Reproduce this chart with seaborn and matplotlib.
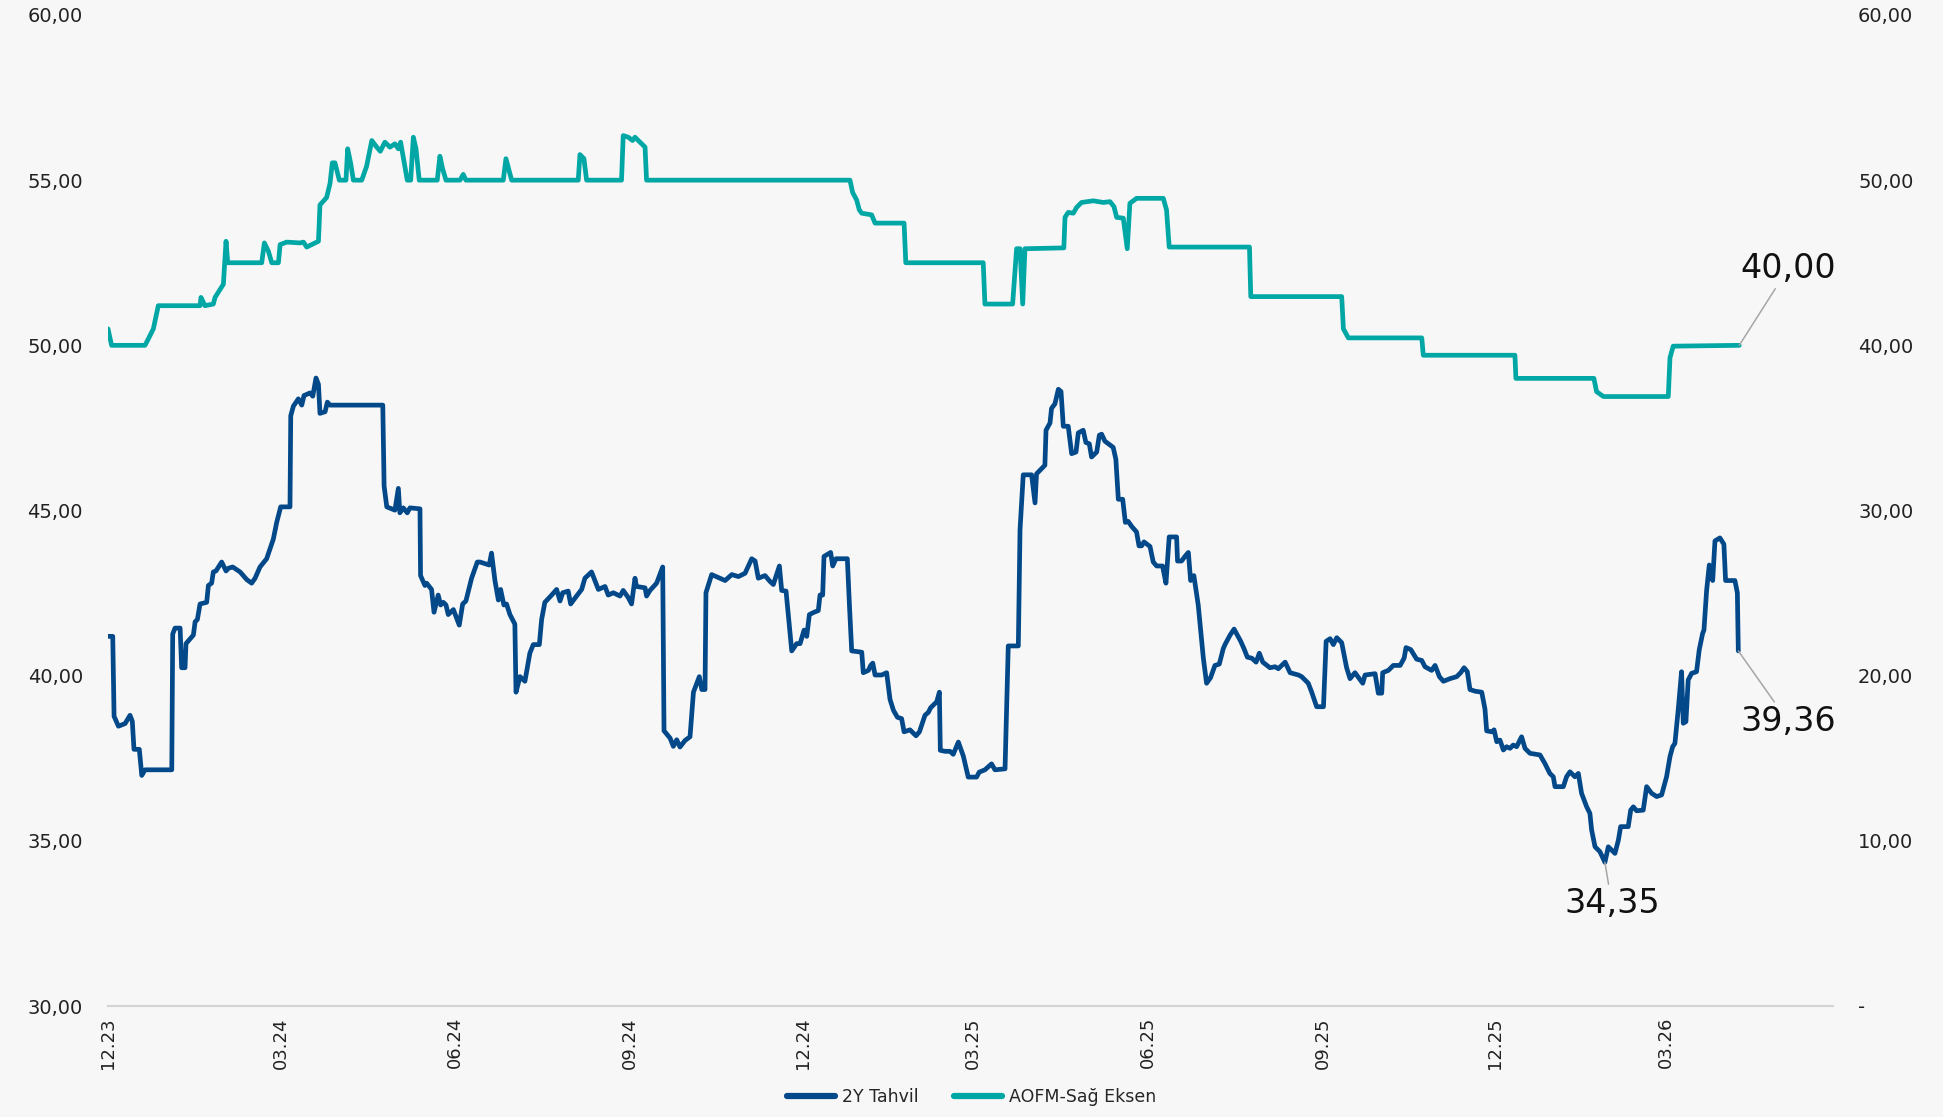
import numpy as np
import pandas as pd
import matplotlib
matplotlib.use("Agg")
import matplotlib.pyplot as plt
from matplotlib.lines import Line2D
import seaborn as sns

# ---------------- data ----------------
start_date = "2023-12-01"

# 2Y Tahvil (left axis): days since start_date and values
bond_days = [0, 2.5, 3.2, 5.5, 9.0, 11.6, 12.8, 13.7, 16.5, 17.8, 19.5, 33.6, 34.1, 35.3, 38.0, 38.8,
             40.6, 41.1, 45.0, 45.9, 47.1, 48.5, 52.0, 52.9, 54.6, 55.5, 56.9, 59.9, 62.2, 63.4, 65.7,
             69.6, 73.1, 75.7, 77.5, 80.1, 83.6, 87.1, 88.9, 91.0, 95.9, 96.3, 97.7, 100.3, 102.1,
             103.3, 106.5, 107.9, 109.6, 110.9, 111.7, 114.4, 115.6, 117.0, 144.8, 145.5, 146.9,
             151.2, 153.0, 153.8, 155.6, 157.7, 159.1, 164.4, 164.7, 167.0, 167.9, 170.5, 171.8,
             174.0, 175.3, 176.7, 178.1, 179.3, 182.0, 185.1, 186.9, 188.6, 191.6, 194.6, 196.0,
             200.9, 202.1, 203.9, 205.7, 206.9, 208.6, 210.0, 211.8, 214.4, 215.0, 217.1, 219.7,
             222.3, 224.1, 227.3, 228.5, 230.2, 233.8, 236.4, 238.2, 239.6, 242.5, 243.8, 246.9,
             249.6, 251.3, 254.8, 258.4, 261.9, 263.6, 266.3, 269.8, 271.5, 274.2, 275.9, 277.7,
             278.5, 283.0, 283.8, 285.6, 289.1, 292.3, 293.0, 296.2, 297.9, 299.7, 301.4, 304.1,
             306.7, 308.5, 311.6, 312.9, 314.6, 315.1, 318.1, 325.2, 328.7, 332.2, 335.7, 339.2,
             341.0, 342.7, 346.2, 348.9, 350.6, 353.8, 355.0, 357.3, 360.3, 362.9, 364.7, 366.8,
             368.2, 369.6, 372.1, 374.3, 375.2, 376.6, 377.3, 380.8, 381.9, 383.6, 389.6, 390.7,
             391.9, 397.2, 398.0, 400.7, 401.9, 403.0, 404.2, 407.7, 410.3, 412.1, 413.9, 416.0,
             418.2, 419.5, 422.6, 425.8, 427.6, 430.5, 432.3, 433.5, 436.7, 438.1, 438.6, 441.1,
             443.7, 445.4, 448.1, 450.7, 453.3, 457.7, 459.1, 462.1, 465.6, 467.4, 472.7, 474.4,
             479.7, 480.6, 482.3, 486.7, 488.5, 489.3, 493.7, 494.3, 496.4, 497.2, 499.0, 500.8,
             502.2, 503.4, 506.0, 507.8, 510.1, 511.3, 513.9, 515.3, 517.1, 518.3, 521.0, 522.4,
             523.6, 525.3, 529.7, 531.1, 532.4, 534.7, 536.1, 537.6, 539.4, 542.0, 543.3, 544.7,
             545.9, 549.1, 550.8, 552.6, 555.7, 557.5, 559.2, 563.1, 563.6, 565.7, 567.5, 569.3,
             570.5, 572.2, 574.5, 577.2, 578.9, 581.0, 583.3, 585.6, 587.7, 588.6, 591.3, 593.4,
             594.8, 596.9, 598.6, 600.4, 602.7, 605.0, 606.7, 608.5, 612.3, 615.0, 616.7, 620.3,
             622.9, 627.3, 629.0, 632.5, 634.3, 636.9, 640.5, 641.9, 644.0, 645.7, 647.5, 650.1,
             652.7, 654.5, 657.1, 659.4, 661.2, 662.4, 667.7, 669.4, 671.2, 671.7, 674.7, 677.3,
             680.9, 683.0, 684.0, 686.5, 689.6, 692.3, 694.0, 697.5, 699.3, 701.6, 703.7, 707.2,
             710.7, 712.8, 714.6, 716.3, 717.7, 720.4, 723.9, 725.6, 726.5, 729.2, 730.4, 731.8,
             733.5, 735.3, 737.0, 738.8, 740.5, 742.3, 744.9, 746.7, 749.3, 754.6, 757.2, 759.8,
             761.6, 762.5, 766.9, 768.6, 770.4, 773.0, 774.8, 776.5, 779.2, 780.9, 781.8, 783.6,
             786.2, 788.8, 790.6, 794.1, 795.9, 797.1, 801.1, 802.4, 803.8, 805.5, 809.0, 810.8,
             813.4, 816.1, 818.7, 821.3, 823.1, 824.5, 825.7, 827.5, 829.2, 830.1, 831.5, 832.7,
             834.5, 837.1, 838.5, 840.3, 841.0, 842.4, 843.8, 845.6, 846.8, 849.4, 851.5, 852.4,
             857.3, 858.6, 859.1]
bond_vals = [41.19, 41.19, 38.77, 38.47, 38.55, 38.80, 38.62, 37.77, 37.77, 36.98, 37.15, 37.15, 41.26,
             41.44, 41.44, 40.24, 40.24, 40.97, 41.23, 41.63, 41.70, 42.17, 42.22, 42.73, 42.80, 43.14,
             43.17, 43.44, 43.17, 43.25, 43.29, 43.14, 42.91, 42.80, 42.95, 43.29, 43.54, 44.13, 44.64,
             45.11, 45.11, 47.87, 48.16, 48.38, 48.19, 48.48, 48.56, 48.46, 49.01, 48.82, 47.94, 47.99,
             48.28, 48.19, 48.19, 45.74, 45.11, 45.01, 45.67, 44.93, 45.08, 44.93, 45.08, 45.05, 43.03,
             42.73, 42.80, 42.61, 41.92, 42.44, 42.14, 42.22, 42.14, 41.85, 42.00, 41.53, 42.17, 42.26,
             42.95, 43.44, 43.44, 43.35, 43.71, 42.88, 42.29, 42.61, 42.14, 42.17, 41.85, 41.56, 39.50,
             39.97, 39.83, 40.68, 40.94, 40.94, 41.70, 42.22, 42.44, 42.61, 42.26, 42.51, 42.56, 42.17,
             42.41, 42.61, 42.95, 43.14, 42.61, 42.70, 42.44, 42.51, 42.41, 42.58, 42.36, 42.17, 42.95,
             42.70, 42.66, 42.41, 42.58, 42.80, 43.29, 38.33, 38.11, 37.86, 38.06, 37.84, 38.04, 38.15,
             39.50, 39.97, 39.58, 39.58, 42.51, 43.06, 42.88, 43.06, 43.00, 43.10, 43.54, 43.47, 42.95,
             43.03, 42.85, 42.76, 43.32, 42.58, 42.56, 40.75, 40.97, 40.97, 41.38, 41.19, 41.85, 41.92,
             41.97, 42.44, 42.44, 43.61, 43.73, 43.32, 43.54, 43.54, 42.14, 40.75, 40.71, 40.09, 40.16,
             40.31, 40.38, 40.02, 40.02, 40.09, 39.28, 38.95, 38.74, 38.70, 38.30, 38.36, 38.18, 38.30,
             38.80, 38.89, 39.03, 39.21, 39.50, 37.74, 37.71, 37.71, 37.62, 37.99, 37.57, 36.93, 36.93,
             37.08, 37.15, 37.33, 37.15, 37.18, 40.90, 40.90, 44.42, 46.08, 46.08, 45.23, 46.11, 46.37,
             47.43, 47.65, 48.09, 48.23, 48.67, 48.60, 47.55, 47.55, 46.72, 46.77, 47.35, 47.43, 47.06,
             47.02, 46.62, 46.77, 47.28, 47.31, 47.10, 46.91, 46.55, 45.34, 45.34, 44.64, 44.67, 44.52,
             44.35, 43.93, 43.93, 44.05, 43.91, 43.44, 43.32, 43.32, 42.80, 44.20, 44.20, 43.47, 43.47,
             43.61, 43.73, 42.88, 43.03, 42.14, 40.53, 39.77, 39.94, 40.31, 40.35, 40.82, 40.94, 41.23,
             41.41, 41.26, 41.04, 40.82, 40.56, 40.53, 40.41, 40.68, 40.41, 40.24, 40.27, 40.21, 40.41,
             40.09, 40.02, 39.97, 39.77, 39.50, 39.06, 39.06, 41.04, 41.12, 40.94, 41.15, 41.00, 40.24,
             39.91, 40.09, 39.91, 39.77, 40.02, 40.06, 39.47, 39.47, 40.09, 40.16, 40.31, 40.31, 40.53,
             40.85, 40.79, 40.50, 40.46, 40.27, 40.16, 40.31, 39.97, 39.83, 39.91, 39.97, 40.09, 40.24,
             40.12, 39.58, 39.53, 39.50, 38.99, 38.33, 38.30, 38.36, 38.00, 38.05, 37.75, 37.85, 37.80,
             37.90, 37.85, 38.15, 37.80, 37.65, 37.60, 37.34, 37.04, 36.94, 36.64, 36.64, 36.94, 37.09,
             36.94, 37.04, 36.44, 36.03, 35.83, 35.33, 34.82, 34.67, 34.35, 34.82, 34.62, 35.02, 35.43,
             35.43, 35.93, 36.03, 35.91, 35.93, 36.64, 36.44, 36.34, 36.39, 36.94, 37.55, 37.85, 37.95,
             39.01, 40.12, 38.56, 38.61, 39.87, 40.07, 40.12, 40.78, 41.28, 41.38, 42.58, 43.35, 42.88,
             44.08, 44.17, 43.98, 42.88, 42.88, 42.51, 40.75]

# AOFM (right axis): days since start_date and values
aofm_days = [0, 1.9, 19.5, 21.3, 23.9, 26.5, 48.5, 49.0, 51.1, 55.5, 56.4, 60.8, 62.2, 63.1, 81.0,
             82.4, 84.5, 86.3, 89.8, 90.7, 94.2, 101.2, 103.0, 104.7, 110.9, 111.7, 115.2, 117.0,
             118.2, 119.6, 121.9, 125.4, 126.3, 127.9, 129.3, 133.7, 136.3, 139.0, 141.6, 143.5,
             145.9, 148.6, 151.2, 153.0, 154.2, 157.7, 159.5, 160.9, 162.3, 164.0, 173.5, 174.9,
             176.3, 178.1, 185.5, 187.2, 188.6, 208.3, 209.7, 212.7, 247.8, 248.7, 250.8, 252.2,
             270.6, 271.5, 274.2, 276.4, 277.7, 283.0, 283.8, 391.0, 392.4, 394.5, 395.9, 397.2,
             402.4, 404.2, 419.5, 420.4, 461.2, 462.1, 476.7, 478.8, 480.6, 482.0, 483.2, 503.7,
             504.3, 506.0, 508.7, 510.4, 513.0, 519.2, 524.5, 528.0, 530.1, 531.5, 535.0, 537.1,
             538.5, 542.0, 556.1, 557.8, 559.2, 601.5, 602.2, 650.1, 651.0, 653.6, 692.3, 693.1,
             741.4, 741.9, 783.0, 784.4, 788.0, 822.2, 823.1, 824.8, 859.6]
aofm_vals = [41.0, 40.0, 40.0, 40.4, 41.0, 42.4, 42.4, 42.9, 42.4, 42.5, 42.9, 43.7, 46.3, 45.0, 45.0,
             46.2, 45.7, 45.0, 45.0, 46.1, 46.25, 46.2, 46.25, 45.95, 46.3, 48.5, 48.95, 49.8, 51.05,
             51.05, 50.0, 50.0, 51.9, 51.0, 50.0, 50.0, 50.85, 52.4, 52.0, 51.75, 52.3, 52.0, 52.2,
             51.9, 52.3, 50.0, 50.0, 52.6, 51.9, 50.0, 50.0, 51.45, 50.7, 50.0, 50.0, 50.35, 50.0,
             50.0, 51.3, 50.0, 50.0, 51.55, 51.3, 50.0, 50.0, 52.7, 52.6, 52.4, 52.6, 52.0, 50.0,
             50.0, 49.25, 48.8, 48.2, 48.0, 47.9, 47.4, 47.4, 45.0, 45.0, 42.5, 42.5, 45.85, 45.85,
             42.5, 45.85, 45.9, 47.75, 48.05, 48.0, 48.35, 48.65, 48.75, 48.65, 48.7, 48.4, 47.75,
             47.7, 45.85, 48.6, 48.9, 48.9, 48.2, 45.95, 45.95, 42.95, 42.95, 41.0, 40.45, 40.45,
             39.4, 39.4, 38.0, 38.0, 37.2, 36.9, 36.9, 39.25, 39.95, 40.0]

series_names = ["2Y Tahvil", "AOFM-Sağ Eksen"]

x_tick_dates = ["2023-12-01", "2024-03-01", "2024-06-01", "2024-09-01", "2024-12-01",
                "2025-03-01", "2025-06-01", "2025-09-01", "2025-12-01", "2026-03-01"]
x_tick_labels = ["12.23", "03.24", "06.24", "09.24", "12.24", "03.25", "06.25", "09.25", "12.25", "03.26"]
x_end_date = "2026-05-28"

left_ticks = [30, 35, 40, 45, 50, 55, 60]
left_tick_labels = ["30,00", "35,00", "40,00", "45,00", "50,00", "55,00", "60,00"]
right_ticks = [0, 10, 20, 30, 40, 50, 60]
right_tick_labels = ["-", "10,00", "20,00", "30,00", "40,00", "50,00", "60,00"]

label_aofm_last = "40,00"
label_bond_last = "39,36"
label_bond_min = "34,35"

# ---------------- styling ----------------
BG = "#f7f7f7"
BLUE = "#03498a"
TEAL = "#00a7a5"
GREY_TXT = "#222222"

sns.set_theme(style="white")
plt.rcParams["font.family"] = ["DejaVu Sans"]

base = pd.Timestamp(start_date)
bond_df = pd.DataFrame({"date": base + pd.to_timedelta(bond_days, unit="D"),
                        "value": bond_vals, "series": series_names[0]})
aofm_df = pd.DataFrame({"date": base + pd.to_timedelta(aofm_days, unit="D"),
                        "value": aofm_vals, "series": series_names[1]})

W, H = 1943, 1117
fig = plt.figure(figsize=(W / 100, H / 100), dpi=100, facecolor=BG)
ax = fig.add_axes([108 / W, 1 - 1006 / H, (1833 - 108) / W, (1006 - 15) / H])
ax.set_facecolor(BG)
ax2 = ax.twinx()
ax2.patch.set_visible(False)

sns.lineplot(data=bond_df, x="date", y="value", ax=ax, color=BLUE, lw=3.4,
             estimator=None, sort=False, legend=False)
sns.lineplot(data=aofm_df, x="date", y="value", ax=ax2, color=TEAL, lw=3.4,
             estimator=None, sort=False, legend=False)

ax.set_xlim(base, pd.Timestamp(x_end_date))
ax.set_ylim(left_ticks[0], left_ticks[-1])
ax2.set_ylim(right_ticks[0], right_ticks[-1])

ax.set_xticks(pd.to_datetime(x_tick_dates))
ax.set_xticklabels(x_tick_labels, rotation=90, fontsize=13, color=GREY_TXT)
ax.set_yticks(left_ticks)
ax.set_yticklabels(left_tick_labels, fontsize=14, color=GREY_TXT)
ax2.set_yticks(right_ticks)
ax2.set_yticklabels(right_tick_labels, fontsize=14, color=GREY_TXT)
ax.set_xlabel("")
ax.set_ylabel("")
ax2.set_ylabel("")

for a in (ax, ax2):
    for s in ("left", "right", "top", "bottom"):
        a.spines[s].set_visible(False)
    a.grid(False)
ax.spines["bottom"].set_visible(True)
ax.spines["bottom"].set_color("#d4d4d4")
ax.spines["bottom"].set_linewidth(1.5)
ax.tick_params(axis="x", length=5, width=1, color="#d4d4d4", pad=3)
ax.tick_params(axis="y", length=0, pad=18)
ax2.tick_params(axis="y", length=0, pad=18)

# annotations
end_aofm = (aofm_df["date"].iloc[-1], aofm_vals[-1])
end_bond = (bond_df["date"].iloc[-1], bond_vals[-1])
imin = int(np.argmin(bond_vals))
min_bond = (bond_df["date"].iloc[imin], bond_vals[imin])
arrow = dict(arrowstyle="-", color="#a6a6a6", lw=1.1, shrinkA=0, shrinkB=0)
ax2.annotate(label_aofm_last, xy=end_aofm, xytext=(35, 55), textcoords="offset points",
             ha="center", va="center", fontsize=24, color="#111111", arrowprops=arrow)
ax.annotate(label_bond_last, xy=end_bond, xytext=(36, -51), textcoords="offset points",
            ha="center", va="center", fontsize=24, color="#111111", arrowprops=arrow)
ax.annotate(label_bond_min, xy=min_bond, xytext=(5, -30), textcoords="offset points",
            ha="center", va="center", fontsize=24, color="#111111", arrowprops=arrow)

handles = [Line2D([0], [0], color=BLUE, lw=4.5), Line2D([0], [0], color=TEAL, lw=4.5)]
fig.legend(handles, series_names, loc="center", bbox_to_anchor=(0.5, 1 - 1097 / H), ncol=2,
           frameon=False, fontsize=12.5, handlelength=2.8, handletextpad=0.4, columnspacing=2.0)

fig.savefig("out.png", dpi=100, facecolor=BG)
